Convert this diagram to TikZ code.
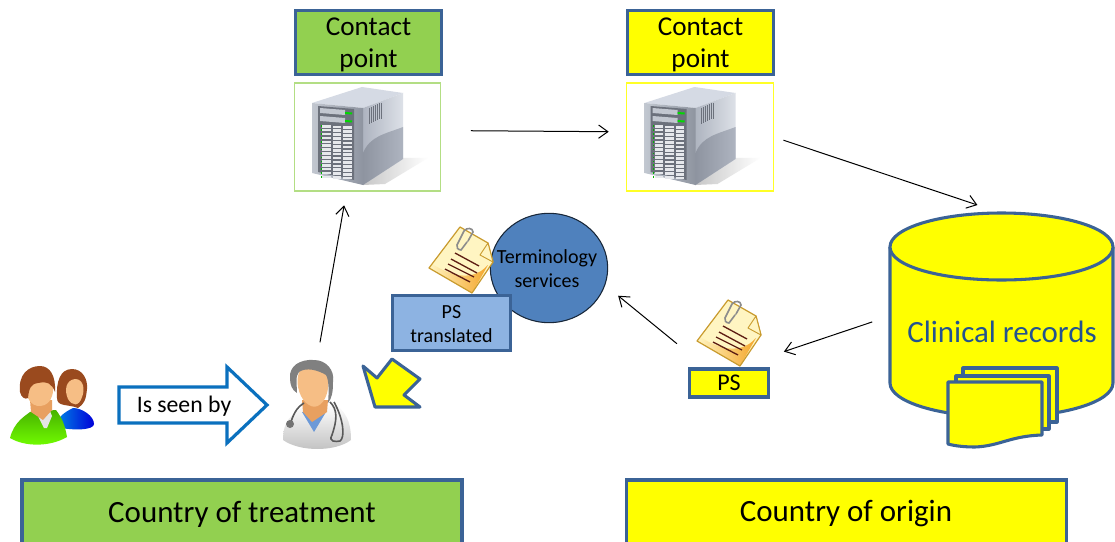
\documentclass[tikz,border=0pt]{standalone}
\usepackage{fontspec}
\setmainfont{Carlito}
\usetikzlibrary{shapes.geometric,arrows.meta}
\definecolor{edgeblue}{HTML}{3B6396}
\definecolor{grn}{HTML}{92D050}
\definecolor{yel}{HTML}{FFFF00}
\definecolor{termblue}{HTML}{4F81BD}
\definecolor{psblue}{HTML}{8DB3E2}
\definecolor{arrblue}{HTML}{0A70BE}
\definecolor{txtblue}{HTML}{23538F}
\definecolor{paper}{HTML}{FFF5C2}
\definecolor{papgold}{HTML}{C99B2E}
\definecolor{papor}{HTML}{F4A52A}
\definecolor{paline}{HTML}{5E1E14}
\definecolor{hairbr}{HTML}{9A4A1E}
\definecolor{skin}{HTML}{F6BE85}
\definecolor{skind}{HTML}{E8A060}
\definecolor{srvtop}{HTML}{D5DAE4}
\definecolor{srvsideL}{HTML}{AEB4C0}
\definecolor{srvsideR}{HTML}{DDE1E8}
\definecolor{srvfrontL}{HTML}{C2C7D0}
\definecolor{srvfrontR}{HTML}{8E94A0}
\definecolor{srvdark}{HTML}{6C717C}
\definecolor{srvrow}{HTML}{E6E8EC}
\tikzset{
  labelbox/.style={draw=edgeblue,line width=2.3pt,align=center,inner sep=0pt,text=black},
  contactbox/.style={labelbox,minimum width=110pt,minimum height=48pt},
  contacttxt/.style={align=center,inner sep=0pt,font=\fontsize{20.4}{24}\selectfont},
  countrybox/.style={labelbox,minimum width=330pt,minimum height=49.5pt},
  countrytxt/.style={inner sep=0pt,font=\fontsize{23.2}{27}\selectfont},
  frame/.style={draw,line width=.9pt,rectangle,inner sep=0pt,minimum width=110pt,minimum height=81pt},
  ghost/.style={rectangle,inner sep=0pt},
  conn/.style={draw=black,line width=.75pt,-{Straight Barb[length=7pt,width=10pt,line width=.75pt]}},
  small/.style={font=\fontsize{15}{18}\selectfont,align=center,inner sep=0pt},
  outl/.style={draw=edgeblue,line width=2.3pt,fill=yel,line join=round}
}
\newcommand{\servericon}[2]{%
\begin{scope}[shift={(#1,#2)}]
  \shade[left color=black!22,right color=white] (363,185) -- (403,158) -- (428,158) -- (385,184) -- cycle;
  \fill[srvtop] (312,103) -- (362,87) -- (403,93) -- (363,108) -- cycle;
  \shade[left color=srvsideL,right color=srvsideR] (363,108) -- (403,93) -- (403,159) -- (363,185) -- cycle;
  \shade[left color=srvfrontR,right color=srvsideL] (363,153) .. controls (370,136) and (385,134) .. (403,127) -- (403,159) -- (363,185) -- cycle;
  \shade[left color=srvfrontL,right color=srvfrontR] (312,103) -- (363,108) -- (363,185) -- (312,173) -- cycle;
  \fill[srvdark] (318,106) -- (354,109) -- (354,180) -- (318,172) -- cycle;
  \foreach \yy in {0,1}{
    \fill[srvfrontL] (320,{108+8*\yy}) -- (345,{110+8*\yy}) -- (345,{115+8*\yy}) -- (320,{113+8*\yy}) -- cycle;
    \fill[green!85!black] (345,{112+8*\yy}) -- (352,{112.5+8*\yy}) -- (352,{114.5+8*\yy}) -- (345,{114+8*\yy}) -- cycle;
  }
  \foreach \rr in {0,...,13}{
    \foreach \cc in {0,1,2}{
      \fill[srvrow] ({322+10.5*\cc},{125+3.9*\rr+0.6*\cc}) rectangle ++(8.5,2.6);
    }
    \fill[green!70!black] (320.5,{125.5+3.9*\rr}) rectangle ++(1,1.5);
  }
  \foreach \hh in {0,...,6}{
    \draw[srvdark,line width=.6pt] ({369+2*\hh},{108-.9*\hh}) -- ({369+2*\hh},{124-.9*\hh});
  }
\end{scope}}
\newcommand{\docicon}[2]{%
\begin{scope}[shift={(#1,#2)}]
  \fill[paper] (460,227) -- (488,243) -- (480,255) -- (493,262) -- (472,293) -- (429,268) -- cycle;
  \shade[left color=paper,right color=papor] (432,264) .. controls (445,272) and (470,285) .. (488,265) -- (472,293) -- (429,268) -- cycle;
  \draw[draw=papgold,line width=.9pt,line join=round] (460,227) -- (488,243) -- (493,262) -- (472,293) -- (429,268) -- cycle;
  \filldraw[fill=paper,draw=papgold,line width=.7pt,line join=round] (488,243) -- (480,255) -- (493,262) -- cycle;
  \foreach \xa/\ya/\xb/\yb in {455/253/479/266,451/259/477/273,448/264/474/277,445/269/470/282}
    \draw[draw=paline,line width=1pt] (\xa,\ya) -- (\xb,\yb);
  \draw[black!45,line width=1.2pt,line cap=round] (467,242) -- (461,250) .. controls (458,250) and (456,247) .. (457,245) -- (464,231) .. controls (467,227) and (473,228) .. (473,232) -- (468,241);
\end{scope}}
\begin{document}
\begin{tikzpicture}[x=.75pt,y=-.75pt]
\useasboundingbox (0,0) rectangle (1115,542);
\clip (0,0) rectangle (1115,542);
\fill[white] (0,0) rectangle (1115,542);

% contact points and servers
\node[contactbox,fill=grn] (cpA) at (368.5,42.5) {};
\node[contactbox,fill=yel] (cpB) at (700.5,42.5) {};
\node[contacttxt] (cpAt) at (368.5,45) {Contact\\point};
\node[contacttxt] (cpBt) at (700.5,45) {Contact\\point};
\node[frame,draw=grn!70!white] (srvA) at (367.5,137) {};
\node[frame,draw=yel!85!white] (srvB) at (700,137) {};
\servericon{0}{0}
\servericon{332.5}{0}

% clinical records
\node[ghost,minimum width=167pt,minimum height=154pt] (cyl) at (1001.5,316) {};
\draw[outl] (890,247) .. controls (890,228) and (940,213) .. (1001.5,213)
   .. controls (1063,213) and (1113,228) .. (1113,247)
   -- (1113,383) .. controls (1113,402) and (1063,417) .. (1001.5,417)
   .. controls (940,417) and (890,402) .. (890,383) -- cycle;
\draw[outl] (890,247) .. controls (890,266) and (940,280) .. (1001.5,280)
   .. controls (1063,280) and (1113,266) .. (1113,247);
\node[font=\fontsize{23.2}{27}\selectfont,text=txtblue,inner sep=0pt] (clin) at (1002,332) {Clinical records};
\draw[outl] (963,368) -- (1057,368) -- (1057,422) -- (963,422) -- cycle;
\draw[outl] (956,376) -- (1049,376) -- (1049,429) -- (956,429) -- cycle;
\draw[outl] (948,382) -- (1042,382) -- (1042,435)
   .. controls (1010,436) and (1000,446) .. (975,447) .. controls (965,447) and (955,446) .. (948,444) -- cycle;

% terminology services and summaries
\node[ellipse,draw=black!70!termblue,line width=.8pt,fill=termblue,minimum width=88pt,minimum height=82pt,inner sep=0pt] (term) at (549,268) {};
\docicon{0}{0}
\node[small] (termtxt) at (547,269) {Terminology\\services};
\node[labelbox,fill=psblue,minimum width=88pt,minimum height=41pt] (pst) at (451.5,323) {};
\node[small] (psttxt) at (451.5,324) {PS\\translated};
\node[ghost,minimum width=49pt,minimum height=51pt] (psdoc) at (729.5,334) {};
\docicon{268}{73}
\node[labelbox,fill=yel,minimum width=59pt,minimum height=21pt,font=\fontsize{18}{22}\selectfont] (ps) at (729,383) {PS};

% yellow block arrow
\draw[outl] (363,366) -- (377,378) -- (392,359) -- (420,379) -- (404,395) -- (420,407) -- (375,407) -- cycle;

% patients
\node[ghost,minimum width=66pt,minimum height=62pt] (people) at (52,405) {};
\shade[left color=blue!40!cyan!90!black,right color=blue!85!black] (55,427) .. controls (57,417) and (65,412) .. (73,408) .. controls (82,408) and (94,416) .. (94,424) .. controls (94,430) and (75,431) .. (55,427) -- cycle;
\fill[hairbr] (72,369) .. controls (83,369) and (88,380) .. (87,389) .. controls (86,400) and (84,404) .. (78,408) .. controls (68,404) and (57,407) .. (57,398) .. controls (56,382) and (60,369) .. (72,369) -- cycle;
\fill[skin] (75,379) .. controls (84,379) and (85,390) .. (82,397) .. controls (79,407) and (72,406) .. (68,399) .. controls (64,390) and (66,380) .. (75,379) -- cycle;
\shade[top color=green!60!yellow!70!black,bottom color=green!55!yellow] (10,438) .. controls (14,422) and (25,416) .. (30,412) -- (56,410) .. controls (62,418) and (65,425) .. (67,437) .. controls (50,447) and (25,447) .. (10,438) -- cycle;
\fill[white!90!black] (38,416) -- (50,411) -- (52,416) -- (47,428) -- (44,428) -- cycle;
\fill[skind] (30,400) -- (52,400) -- (52,410) -- (43,420) -- (31,412) -- cycle;
\fill[skin] (40,376) .. controls (52,376) and (55,388) .. (52,396) .. controls (49,408) and (33,410) .. (28,398) .. controls (25,388) and (28,376) .. (40,376) -- cycle;
\fill[hairbr] (20,392) .. controls (18,375) and (28,366) .. (40,366) .. controls (50,366) and (56,376) .. (55,392) .. controls (52,384) and (48,381) .. (38,383) .. controls (31,384) and (29,388) .. (28,398) .. controls (25,400) and (21,397) .. (20,392) -- cycle;

% is seen by
\node[font=\fontsize{17.8}{21}\selectfont,inner sep=0pt] (seen) at (184,406) {Is seen by};
\draw[draw=arrblue,line width=2.4pt,miter limit=10] (119,387) -- (227,387) -- (227,367) -- (267,405) -- (227,443) -- (227,423) -- (119,423) -- cycle;

% doctor
\node[ghost,minimum width=54pt,minimum height=68pt] (doctor) at (317,405) {};
\shade[top color=white,bottom color=black!25] (283,440) .. controls (283,420) and (292,415) .. (302,408) -- (335,404) .. controls (345,412) and (351,420) .. (351,440) .. controls (335,452) and (300,452) .. (283,440) -- cycle;
\fill[cyan!50!blue!60!white] (302,412) -- (326,412) -- (314,432) -- cycle;
\fill[skind] (302,400) -- (328,400) -- (327,412) -- (312,422) -- (303,412) -- cycle;
\fill[skin] (311,364) .. controls (324,364) and (330,374) .. (328,388) .. controls (326,404) and (316,410) .. (309,405) .. controls (300,400) and (296,385) .. (298,376) .. controls (299,369) and (304,364) .. (311,364) -- cycle;
\fill[black!50] (290,378) .. controls (289,366) and (300,359) .. (314,360) .. controls (326,360) and (335,370) .. (333,382) .. controls (333,392) and (332,398) .. (328,403) .. controls (329,392) and (329,380) .. (326,375) .. controls (318,370) and (306,367) .. (299,372) .. controls (295,376) and (297,385) .. (297,393) .. controls (292,390) and (290,385) .. (290,378) -- cycle;
\draw[black!65,line width=1.2pt] (304,403) .. controls (296,408) and (293,415) .. (290,425);
\draw[black!65,line width=1.2pt] (330,402) .. controls (338,410) and (337,420) .. (332,435) .. controls (328,442) and (336,442) .. (340,441) .. controls (345,438) and (344,420) .. (334,402);
\fill[black!55] (290,424) circle (4);

% country boxes
\node[countrybox,fill=grn] (ctA) at (242,513) {};
\node[countrybox,fill=yel] (ctB) at (846.5,513) {};
\node[countrytxt] (ctAt) at (242,514) {Country of treatment};
\node[countrytxt] (ctBt) at (846,514) {Country of origin};

% connectors
\draw[conn,shorten <=22pt,shorten >=13pt] (srvA.5) -- (srvB.176);
\draw[conn,shorten <=7.5pt,shorten >=19pt] (srvB.east) -- (cyl.north);
\draw[conn,shorten <=14pt,shorten >=17pt] (cyl.west) -- (psdoc.-37.9);
\draw[conn,shorten <=19pt,shorten >=12.5pt] (psdoc.218.7) -- (term.-17.4);
\draw[conn,shorten <=13pt,shorten >=10.5pt] (doctor.north) -- (srvA.249.7);
\end{tikzpicture}
\end{document}
